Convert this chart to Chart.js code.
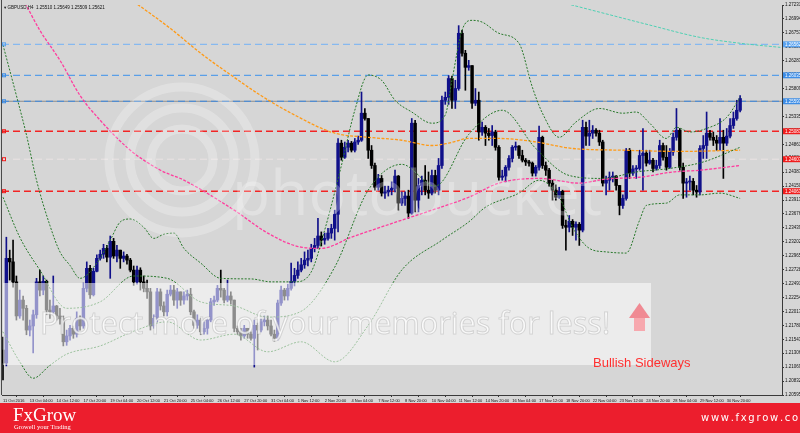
<!DOCTYPE html>
<html>
<head>
<meta charset="utf-8">
<script src="https://cdn.jsdelivr.net/npm/chart.js@4.4.1/dist/chart.umd.min.js"></script>
<style>
html, body { margin: 0; padding: 0; background: #d6d6d6; }
#chart { display: block; }
</style>
</head>
<body>
<canvas id="chart" width="800" height="433"></canvas>
<script>
// GBPUSD H4 candles, 11 Oct - 1 Dec 2016
const xLabels = ["11 Oct 2016", "13 Oct 04:00", "14 Oct 12:00", "17 Oct 20:00", "19 Oct 04:00", "20 Oct 12:00",
  "21 Oct 20:00", "25 Oct 04:00", "26 Oct 12:00", "27 Oct 20:00", "31 Oct 04:00", "1 Nov 12:00", "2 Nov 20:00",
  "4 Nov 04:00", "7 Nov 12:00", "8 Nov 20:00", "10 Nov 04:00", "11 Nov 12:00", "14 Nov 20:00", "16 Nov 04:00",
  "17 Nov 12:00", "18 Nov 20:00", "22 Nov 04:00", "23 Nov 12:00", "24 Nov 20:00", "28 Nov 04:00", "29 Nov 12:00",
  "30 Nov 20:00"];
const BARS_PER_LABEL = 8;

const yTicks = [1.20595, 1.20832, 1.21069, 1.21306, 1.21543, 1.21780, 1.22017, 1.22254, 1.22491, 1.22728,
  1.22965, 1.23202, 1.23439, 1.23676, 1.23913, 1.24150, 1.24387, 1.24624, 1.24861, 1.25098, 1.25335, 1.25572,
  1.25809, 1.26046, 1.26283, 1.26520, 1.26757, 1.26994, 1.27231];

const opens = [
  1.2136,1.2114,1.2292,1.2286,1.2252,1.2194,1.2221,1.2207,1.2170,1.2177,
  1.2196,1.2252,1.2238,1.2253,1.2204,1.2201,1.2211,1.2194,1.2189,1.2150,
  1.2160,1.2173,1.2163,1.2190,1.2177,1.2241,1.2275,1.2230,1.2270,1.2292,
  1.2299,1.2309,1.2294,1.2321,1.2296,1.2306,1.2292,1.2296,1.2289,1.2272,
  1.2252,1.2272,1.2252,1.2241,1.2235,1.2177,1.2190,1.2235,1.2211,1.2201,
  1.2231,1.2238,1.2221,1.2235,1.2221,1.2228,1.2231,1.2201,1.2178,1.2187,
  1.2167,1.2173,1.2187,1.2218,1.2221,1.2241,1.2238,1.2221,1.2228,1.2221,
  1.2173,1.2167,1.2160,1.2173,1.2163,1.2156,1.2178,1.2170,1.2184,1.2187,
  1.2177,1.2163,1.2156,1.2216,1.2238,1.2228,1.2241,1.2253,1.2263,1.2272,
  1.2281,1.2289,1.2292,1.2309,1.2314,1.2330,1.2323,1.2326,1.2335,1.2343,
  1.2367,1.2488,1.2464,1.2481,1.2488,1.2476,1.2490,1.2493,1.2539,1.2530,
  1.2476,1.2450,1.2413,1.2428,1.2403,1.2405,1.2408,1.2411,1.2432,1.2386,
  1.2394,1.2398,1.2369,1.2522,1.2391,1.2416,1.2425,1.2408,1.2403,1.2433,
  1.2408,1.2450,1.2561,1.2566,1.2598,1.2561,1.2581,1.2675,1.2641,1.2617,
  1.2620,1.2556,1.2561,1.2507,1.2515,1.2505,1.2501,1.2507,1.2481,1.2430,
  1.2432,1.2447,1.2462,1.2481,1.2483,1.2467,1.2459,1.2456,1.2454,1.2437,
  1.2447,1.2498,1.2450,1.2442,1.2420,1.2408,1.2396,1.2406,1.2348,1.2345,
  1.2355,1.2345,1.2350,1.2340,1.2515,1.2500,1.2505,1.2510,1.2505,1.2490,
  1.2420,1.2425,1.2430,1.2432,1.2416,1.2382,1.2394,1.2476,1.2437,1.2444,
  1.2445,1.2467,1.2471,1.2454,1.2459,1.2445,1.2450,1.2484,1.2464,1.2447,
  1.2473,1.2498,1.2510,1.2447,1.2420,1.2422,1.2423,1.2408,1.2405,1.2479,
  1.2484,1.2505,1.2498,1.2493,1.2488,1.2498,1.2488,1.2500,1.2518,1.2530,1.2544];

const highs = [
  1.2158,1.2328,1.2306,1.2323,1.2262,1.2238,1.2228,1.2212,1.2187,1.2204,
  1.2258,1.2272,1.2262,1.2255,1.2221,1.2262,1.2212,1.2207,1.2194,1.2170,
  1.2178,1.2177,1.2201,1.2194,1.2250,1.2286,1.2280,1.2275,1.2298,1.2306,
  1.2316,1.2314,1.2330,1.2326,1.2314,1.2306,1.2303,1.2299,1.2292,1.2279,
  1.2279,1.2276,1.2262,1.2255,1.2241,1.2196,1.2241,1.2240,1.2218,1.2238,
  1.2246,1.2246,1.2241,1.2235,1.2235,1.2238,1.2241,1.2204,1.2196,1.2190,
  1.2184,1.2190,1.2224,1.2228,1.2246,1.2272,1.2241,1.2255,1.2235,1.2221,
  1.2177,1.2173,1.2178,1.2173,1.2167,1.2187,1.2182,1.2190,1.2194,1.2194,
  1.2187,1.2170,1.2221,1.2245,1.2241,1.2248,1.2284,1.2275,1.2286,1.2292,
  1.2303,1.2306,1.2316,1.2326,1.2360,1.2337,1.2335,1.2343,1.2350,1.2374,
  1.2496,1.2493,1.2490,1.2493,1.2491,1.2496,1.2500,1.2575,1.2547,1.2530,
  1.2484,1.2454,1.2435,1.2433,1.2415,1.2415,1.2422,1.2442,1.2433,1.2405,
  1.2405,1.2408,1.2530,1.2527,1.2428,1.2432,1.2450,1.2439,1.2442,1.2442,
  1.2462,1.2568,1.2575,1.2603,1.2602,1.2595,1.2688,1.2680,1.2646,1.2629,
  1.2620,1.2581,1.2575,1.2524,1.2518,1.2513,1.2518,1.2510,1.2484,1.2442,
  1.2450,1.2467,1.2484,1.2490,1.2484,1.2476,1.2462,1.2459,1.2456,1.2450,
  1.2517,1.2500,1.2456,1.2445,1.2425,1.2417,1.2413,1.2408,1.2357,1.2365,
  1.2358,1.2354,1.2353,1.2527,1.2524,1.2527,1.2518,1.2513,1.2510,1.2493,
  1.2432,1.2439,1.2439,1.2433,1.2416,1.2400,1.2479,1.2479,1.2450,1.2450,
  1.2476,1.2513,1.2476,1.2476,1.2462,1.2459,1.2493,1.2488,1.2484,1.2479,
  1.2505,1.2547,1.2513,1.2454,1.2428,1.2432,1.2428,1.2416,1.2484,1.2501,
  1.2541,1.2510,1.2507,1.2501,1.2530,1.2510,1.2513,1.2530,1.2541,1.2561,1.2569];

const lows = [
  1.2085,1.2109,1.2255,1.2243,1.2187,1.2190,1.2187,1.2162,1.2160,1.2131,
  1.2190,1.2228,1.2230,1.2196,1.2190,1.2197,1.2187,1.2180,1.2143,1.2144,
  1.2153,1.2156,1.2158,1.2170,1.2173,1.2235,1.2224,1.2228,1.2269,1.2289,
  1.2292,1.2286,1.2258,1.2292,1.2286,1.2275,1.2286,1.2282,1.2269,1.2246,
  1.2248,1.2238,1.2235,1.2224,1.2170,1.2173,1.2184,1.2204,1.2194,1.2194,
  1.2228,1.2212,1.2207,1.2212,1.2214,1.2221,1.2196,1.2173,1.2173,1.2162,
  1.2163,1.2163,1.2184,1.2212,1.2218,1.2226,1.2216,1.2218,1.2214,1.2167,
  1.2162,1.2153,1.2156,1.2156,1.2153,1.2107,1.2136,1.2167,1.2177,1.2170,
  1.2160,1.2151,1.2153,1.2212,1.2221,1.2221,1.2238,1.2245,1.2258,1.2269,
  1.2275,1.2279,1.2286,1.2303,1.2309,1.2313,1.2316,1.2323,1.2326,1.2323,
  1.2337,1.2459,1.2462,1.2473,1.2473,1.2473,1.2486,1.2491,1.2527,1.2462,
  1.2445,1.2408,1.2408,1.2398,1.2394,1.2398,1.2400,1.2405,1.2374,1.2382,
  1.2382,1.2360,1.2367,1.2371,1.2371,1.2400,1.2400,1.2394,1.2400,1.2403,
  1.2400,1.2445,1.2554,1.2554,1.2547,1.2547,1.2578,1.2636,1.2578,1.2612,
  1.2547,1.2552,1.2493,1.2501,1.2484,1.2493,1.2484,1.2476,1.2425,1.2425,
  1.2422,1.2442,1.2456,1.2476,1.2462,1.2456,1.2450,1.2449,1.2432,1.2432,
  1.2442,1.2445,1.2433,1.2415,1.2391,1.2391,1.2394,1.2343,1.2306,1.2337,
  1.2331,1.2323,1.2314,1.2337,1.2484,1.2484,1.2496,1.2500,1.2484,1.2415,
  1.2400,1.2408,1.2422,1.2408,1.2366,1.2377,1.2391,1.2428,1.2433,1.2428,
  1.2442,1.2408,1.2449,1.2452,1.2439,1.2442,1.2445,1.2459,1.2442,1.2445,
  1.2467,1.2493,1.2442,1.2394,1.2396,1.2408,1.2400,1.2396,1.2400,1.2462,
  1.2462,1.2493,1.2484,1.2476,1.2476,1.2428,1.2484,1.2497,1.2513,1.2527,1.2541];

const closes = [
  1.2114,1.2292,1.2286,1.2252,1.2194,1.2221,1.2207,1.2170,1.2177,1.2196,
  1.2252,1.2238,1.2253,1.2204,1.2201,1.2211,1.2194,1.2189,1.2150,1.2160,
  1.2173,1.2163,1.2190,1.2177,1.2241,1.2275,1.2230,1.2270,1.2292,1.2299,
  1.2309,1.2294,1.2321,1.2296,1.2306,1.2292,1.2296,1.2289,1.2272,1.2252,
  1.2272,1.2252,1.2241,1.2235,1.2177,1.2190,1.2235,1.2211,1.2201,1.2231,
  1.2238,1.2221,1.2235,1.2221,1.2228,1.2231,1.2201,1.2178,1.2187,1.2167,
  1.2173,1.2187,1.2218,1.2221,1.2241,1.2238,1.2221,1.2228,1.2221,1.2173,
  1.2167,1.2160,1.2173,1.2163,1.2156,1.2178,1.2170,1.2184,1.2187,1.2177,
  1.2163,1.2156,1.2216,1.2238,1.2228,1.2241,1.2253,1.2263,1.2272,1.2281,
  1.2289,1.2292,1.2309,1.2314,1.2330,1.2323,1.2326,1.2335,1.2343,1.2367,
  1.2488,1.2464,1.2481,1.2488,1.2476,1.2490,1.2493,1.2539,1.2530,1.2476,
  1.2450,1.2413,1.2428,1.2403,1.2405,1.2408,1.2411,1.2432,1.2386,1.2394,
  1.2398,1.2369,1.2522,1.2391,1.2416,1.2425,1.2408,1.2403,1.2433,1.2408,
  1.2450,1.2561,1.2566,1.2598,1.2561,1.2581,1.2675,1.2641,1.2617,1.2620,
  1.2556,1.2561,1.2507,1.2515,1.2505,1.2501,1.2507,1.2481,1.2430,1.2432,
  1.2447,1.2462,1.2481,1.2483,1.2467,1.2459,1.2456,1.2454,1.2437,1.2447,
  1.2498,1.2450,1.2442,1.2420,1.2408,1.2396,1.2406,1.2348,1.2345,1.2355,
  1.2345,1.2350,1.2340,1.2515,1.2500,1.2505,1.2510,1.2505,1.2490,1.2420,
  1.2425,1.2430,1.2432,1.2416,1.2382,1.2394,1.2476,1.2437,1.2444,1.2445,
  1.2467,1.2471,1.2454,1.2459,1.2445,1.2450,1.2484,1.2464,1.2447,1.2473,
  1.2498,1.2510,1.2447,1.2420,1.2422,1.2423,1.2408,1.2405,1.2479,1.2484,
  1.2505,1.2498,1.2493,1.2488,1.2498,1.2488,1.2500,1.2518,1.2530,1.2544,1.2564];

// Bollinger bands, sampled at the bars where they were read
const bbUpperBars = [0,4,7,10,14,17,20,23,28,32,35,38,42,45,48,51,54,59,65,74,80,87,92,96,101,105,109,113,117,122,
  128,132,134,137,140,143,148,154,158,161,166,171,178,185,189,193,198,201,205,210,216,220];
const bbUpper = [1.2655,1.2569,1.2502,1.2425,1.2348,1.2303,1.2280,1.2258,1.2284,1.2323,1.2354,1.2359,1.2345,1.2326,
  1.2333,1.2335,1.2309,1.2284,1.2258,1.2257,1.2252,1.2252,1.2269,1.2340,1.2450,1.2544,1.2604,1.2595,1.2561,1.2541,
  1.2522,1.2536,1.2595,1.2680,1.2697,1.2694,1.2675,1.2658,1.2583,1.2539,1.2498,1.2524,1.2547,1.2539,1.2541,1.2522,
  1.2496,1.2515,1.2507,1.2513,1.2532,1.2566];
const bbMidBars = [0,5,11,19,29,39,49,59,69,79,89,99,109,119,129,139,149,159,169,179,189,199,209,220];
const bbMid = [1.2396,1.2328,1.2272,1.2207,1.2218,1.2262,1.2258,1.2218,1.2211,1.2192,1.2202,1.2277,1.2408,1.2452,
  1.2415,1.2503,1.2544,1.2479,1.2433,1.2428,1.2439,1.2445,1.2456,1.2481];
const bbLowerBars = [0,5,9,14,19,29,39,49,59,69,79,89,99,109,119,131,139,144,154,160,166,170,175,180,186,190,192,
  198,202,208,214,220];
const bbLower = [1.2167,1.2116,1.2088,1.2110,1.2129,1.2143,1.2168,1.2184,1.2153,1.2163,1.2133,1.2150,1.2116,1.2178,
  1.2272,1.2323,1.2354,1.2379,1.2403,1.2425,1.2396,1.2345,1.2309,1.2303,1.2301,1.2357,1.2382,1.2386,1.2400,1.2400,
  1.2403,1.2394];

// moving averages
const maOrangeBars = [38,50,59,68,77,86,99,109,119,128,133,139,148,158,170,185,202,220];
const maOrange = [1.2733,1.2683,1.2641,1.2604,1.2569,1.2539,1.2505,1.2498,1.2493,1.2484,1.2488,1.2496,1.2496,1.2491,
  1.2479,1.2476,1.2474,1.2476];
const maPinkBars = [6,11,17,23,29,38,47,54,69,79,89,95,104,119,128,139,148,160,172,180,190,200,208,220];
const maPink = [1.2733,1.2680,1.2629,1.2569,1.2527,1.2476,1.2442,1.2425,1.2374,1.2335,1.2311,1.2309,1.2328,1.2357,
  1.2374,1.2396,1.2420,1.2428,1.2420,1.2427,1.2430,1.2439,1.2442,1.2450];
const maTealBars = [163,178,193,208,220,232];
const maTeal = [1.2733,1.2711,1.2689,1.2668,1.2658,1.2651];

// horizontal levels
const blueLevels = [1.26562, 1.26035, 1.25593];
const redLevels = [1.25083, 1.24063];
const markLevels = [1.24607];

const X_MIN = -0.3, X_MAX = 232.5;
const UP = '#10108a', DOWN = '#000000';
const blueShades = ['#86b9f0', '#5a9fe8', '#3b88df'];
const FONT = '"Liberation Sans", "DejaVu Sans", sans-serif';

const idx = closes.map((_, i) => i);
const candleColors = idx.map(i => closes[i] >= opens[i] ? UP : DOWN);

function levelSet(v, color, dash, width, order) {
  return { type: 'line', data: [{ x: X_MIN, y: v }, { x: X_MAX, y: v }], borderColor: color,
    borderWidth: width, borderDash: dash, pointRadius: 0, order: order };
}

function curve(bars, vals, color, width, dash) {
  return { type: 'line', data: bars.map((b, i) => ({ x: b, y: vals[i] })), borderColor: color,
    borderWidth: width, borderDash: dash, pointRadius: 0, cubicInterpolationMode: 'monotone',
    fill: false, order: 2 };
}

const datasets = [];
datasets.push(levelSet(blueLevels[2], '#8d8d8d', [], 1, 12));
blueLevels.forEach((v, i) => datasets.push(levelSet(v, blueShades[i], [7, 4], 1.2, 11)));
redLevels.forEach(v => datasets.push(levelSet(v, '#f22424', [7, 4], 1.4, 11)));
markLevels.forEach(v => datasets.push(levelSet(v, 'rgba(236,228,228,0.9)', [7, 4], 1, 11)));

datasets.push({ type: 'bar', data: idx.map(i => ({ x: i, y: [lows[i], highs[i]] })),
  backgroundColor: candleColors, barThickness: 1, grouped: false, order: 6 });
datasets.push({ type: 'bar', data: idx.map(i => ({ x: i, y: [opens[i], closes[i]] })),
  backgroundColor: candleColors, barThickness: 2.8, grouped: false, minBarLength: 1, order: 5 });

datasets.push(curve(bbUpperBars, bbUpper, '#27782a', 1, [2, 1.5]));
datasets.push(curve(bbMidBars, bbMid, '#27782a', 1, [2, 1.5]));
datasets.push(curve(bbLowerBars, bbLower, '#27782a', 1, [2, 1.5]));
datasets.push(curve(maOrangeBars, maOrange, '#ff9a16', 1.3, [3, 1.5]));
datasets.push(curve(maPinkBars, maPink, '#ff3d9e', 1.3, [3, 1.5]));
datasets.push(curve(maTealBars, maTeal, '#4fd1b4', 1, [3, 1.5]));

const overlay = {
  id: 'overlay',
  beforeDraw(chart) {
    const c = chart.ctx;
    c.save();
    c.fillStyle = '#d6d6d6';
    c.fillRect(0, 0, chart.width, chart.height);
    c.restore();
  },
  afterDatasetsDraw(chart) {
    const c = chart.ctx, a = chart.chartArea;
    c.save();
    // photobucket watermark
    c.strokeStyle = 'rgba(255,255,255,0.26)';
    c.lineWidth = 9;
    [31, 52, 73].forEach(r => { c.beginPath(); c.arc(182, 160, r, 0, Math.PI * 2); c.stroke(); });
    c.fillStyle = 'rgba(255,255,255,0.28)';
    c.font = '80px "Open Sans"';
    let w = c.measureText('photobucket').width;
    c.font = (80 * 370 / w).toFixed(1) + 'px "Open Sans"';
    c.fillText('photobucket', 232, 215);

    c.fillStyle = 'rgba(255,255,255,0.55)';
    c.fillRect(a.left + 1, 283, 648, 82);
    c.font = '30px "Open Sans"';
    w = c.measureText('Protect more of your memories for less!').width;
    c.font = (30 * 570 / w).toFixed(1) + 'px "Open Sans"';
    c.fillStyle = 'rgba(255,255,255,0.75)';
    c.strokeStyle = 'rgba(140,140,140,0.3)';
    c.lineWidth = 1;
    c.fillText('Protect more of your memories for less!', 40, 334);
    c.strokeText('Protect more of your memories for less!', 40, 334);

    // annotation
    c.fillStyle = '#f7a8ae';
    c.fillRect(634, 317, 11, 14);
    c.fillStyle = '#f08a93';
    c.beginPath(); c.moveTo(629, 318); c.lineTo(650, 318); c.lineTo(639.5, 303); c.closePath(); c.fill();
    c.fillStyle = '#ff3030';
    c.font = '13px ' + FONT;
    c.fillText('Bullish Sideways', 593, 367);
    c.restore();
  },
  afterDraw(chart) {
    const c = chart.ctx, a = chart.chartArea, ys = chart.scales.y;
    c.save();
    // frame
    c.strokeStyle = '#4a4a4a';
    c.lineWidth = 1;
    c.beginPath(); c.moveTo(1.5, 0); c.lineTo(1.5, a.bottom); c.stroke();
    // level price boxes
    const boxes = blueLevels.map((v, i) => [v, i === 0 ? '#5aa3f0' : '#3d8de6'])
      .concat(redLevels.map(v => [v, '#f01c1c']), markLevels.map(v => [v, '#f01c1c']));
    c.font = '4.5px ' + FONT;
    c.textBaseline = 'middle';
    boxes.forEach(([v, col]) => {
      const y = ys.getPixelForValue(v);
      c.fillStyle = col;
      c.fillRect(a.right + 1, y - 3, 18, 6);
      c.fillStyle = '#fff';
      c.fillText(v.toFixed(5), a.right + 3, y + 0.3);
      c.strokeStyle = col;
      c.strokeRect(2.5, y - 1.5, 3, 3);
    });
    // header
    c.fillStyle = '#111';
    c.fillText('\u25BE GBPUSD,H4  1.25510 1.25649 1.25509 1.25621', 4, 8);
    // footer
    c.fillStyle = '#ec1e2d';
    c.fillRect(0, 403, chart.width, 30);
    c.fillStyle = '#fff';
    c.textBaseline = 'alphabetic';
    c.font = '19px "Liberation Serif", serif';
    c.fillText('FxGrow', 13, 421);
    c.font = '6.5px "Liberation Serif", serif';
    c.fillText('Growell your Trading', 14, 428.5);
    c.font = '10px "DejaVu Sans", sans-serif';
    let x = 701;
    for (const ch of 'www.fxgrow.com') {
      c.fillText(ch, x, 421);
      x += c.measureText(ch).width + 1.7;
    }
    c.restore();
  }
};

new Chart(document.getElementById('chart'), {
  type: 'bar',
  data: { datasets: datasets },
  options: {
    responsive: false,
    animation: false,
    devicePixelRatio: 1,
    events: [],
    layout: { padding: { left: 2, top: 5, right: 0, bottom: 0 } },
    plugins: { legend: { display: false }, tooltip: { enabled: false } },
    scales: {
      x: {
        type: 'linear', min: X_MIN, max: X_MAX, offset: false,
        afterBuildTicks: s => { s.ticks = xLabels.map((_, k) => ({ value: k * BARS_PER_LABEL })); },
        afterFit: s => { s.height = 38; },
        grid: { drawOnChartArea: false, drawTicks: true, tickLength: 2, color: '#333' },
        border: { display: true, color: '#3a3a3a' },
        ticks: { autoSkip: false, maxRotation: 0, minRotation: 0, align: 'start', padding: 1,
          font: { size: 4, family: FONT }, color: '#111', callback: (v, i) => xLabels[i] }
      },
      y: {
        type: 'linear', position: 'right', min: yTicks[0], max: yTicks[yTicks.length - 1],
        afterBuildTicks: s => { s.ticks = yTicks.map(v => ({ value: v })); },
        afterFit: s => { s.width = 18; },
        grid: { drawOnChartArea: false, drawTicks: true, tickLength: 2, color: '#333' },
        border: { display: true, color: '#3a3a3a' },
        ticks: { autoSkip: false, padding: 1, font: { size: 4.5, family: FONT }, color: '#111',
          callback: v => v.toFixed(5) }
      }
    }
  },
  plugins: [overlay]
});
</script>
</body>
</html>
